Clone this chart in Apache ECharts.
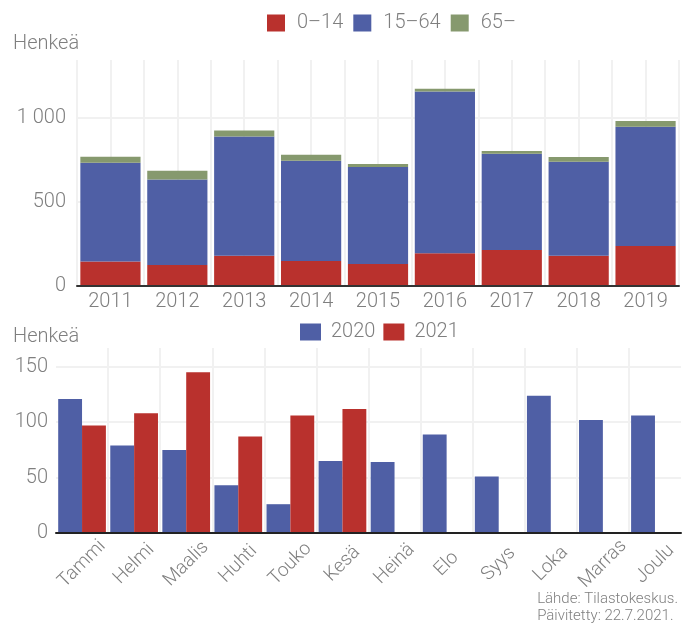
<!DOCTYPE html>
<html>
<head>
<meta charset="utf-8">
<script src="https://cdn.jsdelivr.net/npm/echarts@6/dist/echarts.min.js"></script>
<style>
html,body{margin:0;padding:0;background:#fff;}
#c{width:694px;height:623px;}
</style>
</head>
<body>
<div id="c"></div>
<script>
// ---- data ----
const years = ['2011','2012','2013','2014','2015','2016','2017','2018','2019'];
const ageNames = ['0–14','15–64','65–'];
const age0_14  = [145, 125, 180, 149, 131, 195, 214, 179, 238];
const age15_64 = [587, 508, 707, 595, 576, 960, 572, 559, 707];
const age65    = [36, 52, 36, 36, 17, 16, 16, 28, 35];

const months = ['Tammi','Helmi','Maalis','Huhti','Touko','Kesä','Heinä','Elo','Syys','Loka','Marras','Joulu'];
const monthNames = ['2020','2021'];
const y2020 = [121, 79, 75, 43, 26, 65, 64, 89, 51, 124, 102, 106];
const y2021 = [97, 108, 145, 87, 106, 112, null, null, null, null, null, null];

const yTitle = 'Henkeä';
const sourceText = 'Lähde: Tilastokeskus.\nPäivitetty: 22.7.2021.';

// ---- style ----
const FONT = 'Roboto';
const GRAY = '#7f7f7f';
const GRID = '#f1f1f1';
const RED = '#b9312d', BLUE = '#4f5fa5', GREEN = '#86996e';
const fmt = v => String(v).replace(/\B(?=(\d{3})+(?!\d))/g, ' ');
const lbl = {color: GRAY, fontFamily: FONT, fontWeight: 300, fontSize: 20};

const chart = echarts.init(document.getElementById('c'), null, {renderer: 'canvas'});
chart.setOption({
  animation: false,
  backgroundColor: '#fff',
  textStyle: {fontFamily: FONT},
  graphic: [
    {type: 'text', left: 13, top: 34, style: {text: yTitle, fill: GRAY, font: '300 20px Roboto'}},
    {type: 'text', left: 13, top: 327, style: {text: yTitle, fill: GRAY, font: '300 20px Roboto'}},
    {type: 'text', right: 16, top: 591, style: {text: sourceText, fill: GRAY, font: '300 15px Roboto', align: 'right', lineHeight: 17}}
  ],
  legend: [
    {data: ageNames, left: 262, top: 8, itemWidth: 18, itemHeight: 17, itemGap: 10,
     icon: 'rect', textStyle: Object.assign({}, lbl, {padding: [0,0,0,7]})},
    {data: monthNames, left: 295, top: 317, itemWidth: 21, itemHeight: 17, itemGap: 8,
     icon: 'rect', textStyle: Object.assign({}, lbl, {padding: [0,0,0,5]})}
  ],
  grid: [
    {left: 77, right: 15, top: 60, height: 226},
    {left: 56, right: 13, top: 348, height: 185}
  ],
  xAxis: [
    {type: 'category', gridIndex: 0, data: years,
     axisLine: {lineStyle: {color: '#333', width: 2}}, axisTick: {show: false},
     axisLabel: Object.assign({}, lbl, {margin: 6}), splitLine: {show: false}, z: 5},
    {type: 'value', gridIndex: 0, min: 0, max: 9, interval: 0.5, show: true,
     axisLine: {show: false}, axisTick: {show: false}, axisLabel: {show: false},
     splitLine: {show: true, lineStyle: {color: GRID, width: 2}}},
    {type: 'category', gridIndex: 1, data: months,
     axisLine: {lineStyle: {color: '#222', width: 2}}, axisTick: {show: false},
     axisLabel: Object.assign({}, lbl, {fontSize: 19, rotate: 45, align: 'center', verticalAlign: 'middle', margin: 31}),
     splitLine: {show: false}, z: 5},
    {type: 'value', gridIndex: 1, min: -0.5, max: 11.5, interval: 1,
     axisLine: {show: false}, axisTick: {show: false}, axisLabel: {show: false},
     splitLine: {show: true, showMinLine: false, showMaxLine: false, lineStyle: {color: GRID, width: 2}}}
  ],
  yAxis: [
    {type: 'value', gridIndex: 0, min: 0, max: 1342, interval: 500,
     axisLine: {show: false}, axisTick: {show: false},
     axisLabel: Object.assign({}, lbl, {margin: 11, showMaxLabel: false, formatter: fmt}),
     splitLine: {show: true, showMaxLine: false, lineStyle: {color: GRID, width: 2}}},
    {type: 'value', gridIndex: 1, min: 0, max: 167, interval: 50,
     axisLine: {show: false}, axisTick: {show: false},
     axisLabel: Object.assign({}, lbl, {margin: 8, showMaxLabel: false}),
     splitLine: {show: true, showMaxLine: false, lineStyle: {color: GRID, width: 2}}}
  ],
  series: [
    {name: ageNames[0], type: 'bar', stack: 'a', xAxisIndex: 0, yAxisIndex: 0, data: age0_14,
     itemStyle: {color: RED}, barCategoryGap: '10%'},
    {name: ageNames[1], type: 'bar', stack: 'a', xAxisIndex: 0, yAxisIndex: 0, data: age15_64,
     itemStyle: {color: BLUE}, barCategoryGap: '10%'},
    {name: ageNames[2], type: 'bar', stack: 'a', xAxisIndex: 0, yAxisIndex: 0, data: age65,
     itemStyle: {color: GREEN}, barCategoryGap: '10%'},
    {name: monthNames[0], type: 'bar', xAxisIndex: 2, yAxisIndex: 1, data: y2020,
     itemStyle: {color: BLUE}, barGap: '0%', barCategoryGap: '8.4%'},
    {name: monthNames[1], type: 'bar', xAxisIndex: 2, yAxisIndex: 1, data: y2021,
     itemStyle: {color: RED}, barGap: '0%', barCategoryGap: '8.4%'}
  ]
});
</script>
</body>
</html>
